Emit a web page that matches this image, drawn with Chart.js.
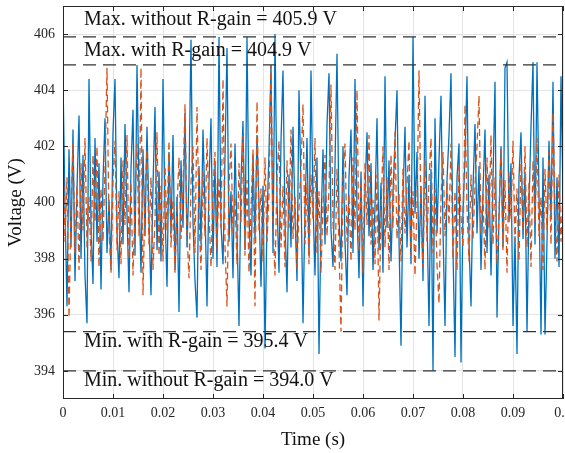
<!DOCTYPE html>
<html><head><meta charset="utf-8">
<script src="https://cdn.jsdelivr.net/npm/chart.js@4/dist/chart.umd.min.js"></script>
<style>html,body{margin:0;padding:0;background:#fff}#wrap{width:565px;height:453px;position:relative}</style>
</head><body><div id="wrap"><canvas id="c" width="565" height="453"></canvas></div>
<script>
// Sampling interval of both traces (s)
const sampleStep = 0.0004;

// Voltage without R-gain (blue, solid)
const voltageWithout = [
404.4,399.8,396.3,401.9,398.4,402.6,397.2,400.5,403.1,398.0,
401.7,397.4,395.7,404.4,399.2,397.1,402.3,398.6,401.4,396.9,
400.8,403.0,398.2,400.1,397.6,402.5,404.4,399.0,397.3,401.6,
398.5,402.8,399.6,396.8,401.2,403.3,398.1,404.9,400.3,397.5,
401.9,398.8,402.7,399.4,396.7,400.6,403.4,398.3,401.1,397.9,
404.4,399.7,397.0,401.8,398.9,402.4,397.6,400.2,396.1,401.5,
399.1,403.2,398.4,400.9,405.8,399.3,397.2,395.9,401.3,398.5,
402.6,399.8,396.3,400.7,403.0,398.0,401.4,397.7,405.9,399.2,
397.8,401.6,405.5,398.6,400.4,397.3,402.1,399.0,395.6,400.8,
402.9,398.3,405.9,399.5,397.4,401.7,398.7,402.4,399.9,397.0,
400.6,394.8,399.4,401.8,404.9,398.2,406.0,400.1,397.5,402.2,
404.7,399.3,396.8,401.0,398.4,402.7,399.6,397.2,404.0,400.5,
395.7,399.8,402.3,398.1,404.7,400.0,397.4,401.6,394.6,399.2,
401.9,398.5,402.8,404.6,399.0,397.7,401.3,405.3,399.4,397.9,
402.0,398.6,396.7,400.9,402.6,398.2,404.4,399.7,397.3,401.1,
396.3,400.4,402.5,398.8,401.4,397.6,399.9,403.0,398.3,400.7,
397.5,404.5,399.1,401.5,397.9,400.3,402.2,404.0,398.7,394.9,
400.2,402.7,398.4,401.0,397.8,405.9,399.6,401.8,398.0,400.6,
397.2,403.8,399.5,395.6,401.2,394.0,403.0,398.9,401.5,403.8,
399.0,395.6,400.8,402.4,404.6,398.3,394.5,400.9,402.1,394.3,
399.7,401.6,404.5,398.6,396.3,400.5,402.8,398.9,401.3,397.6,
400.4,402.6,398.2,401.0,397.4,400.8,404.3,395.9,399.5,402.0,
398.4,404.8,405.0,399.3,401.4,395.6,398.8,394.6,400.9,402.5,
398.7,401.1,395.4,399.9,402.7,405.0,398.5,405.0,400.3,395.3,
401.6,395.3,398.6,402.2,399.4,404.3,398.0,400.9,397.7,404.5,
400.2
];

// Voltage with R-gain (orange, dashed)
const voltageWith = [
401.8,398.6,400.9,395.9,399.7,402.1,398.2,400.6,397.6,401.4,
399.0,402.3,398.4,400.2,397.9,401.7,399.3,402.0,397.7,400.5,
398.6,401.2,404.8,399.1,397.5,400.8,402.2,398.3,400.4,397.8,
401.5,399.2,402.4,398.0,400.7,397.4,399.9,402.1,398.8,404.8,
396.7,400.3,401.9,398.5,400.9,397.6,399.4,402.5,398.1,400.6,
397.9,401.3,399.0,402.2,398.4,400.1,397.5,399.8,401.6,398.7,
400.5,403.5,398.9,397.3,400.7,402.0,398.2,403.4,399.5,397.6,
401.1,398.8,402.3,399.6,397.7,400.4,401.8,398.3,400.9,399.1,
404.4,398.5,396.3,400.6,402.1,398.9,400.2,397.8,401.4,399.3,
402.4,398.1,400.8,397.5,399.7,401.9,396.3,403.6,399.0,400.5,
397.9,401.6,398.6,400.3,404.9,399.2,397.4,400.9,402.2,398.4,
400.6,397.7,401.5,399.1,402.6,398.7,400.2,397.6,399.8,401.3,
403.5,398.5,400.7,397.8,401.0,399.4,402.3,398.2,400.4,397.5,
399.9,401.7,398.8,400.5,404.2,399.3,397.6,401.2,398.4,395.4,
400.8,402.1,398.6,400.3,397.9,401.6,399.0,404.0,398.3,400.7,
397.5,401.4,399.2,402.4,398.5,400.1,397.8,401.0,395.8,399.6,
402.0,398.4,400.9,397.6,401.7,399.1,402.5,398.7,400.3,397.9,
401.2,398.9,400.6,402.2,398.1,400.4,397.4,399.9,404.7,399.4,
397.7,401.5,398.6,400.8,402.3,398.2,400.5,397.8,396.4,400.2,
401.8,398.8,400.7,399.2,402.1,398.0,400.4,397.6,401.3,399.5,
398.4,403.5,399.8,397.9,401.0,398.7,400.6,402.0,403.8,398.9,
400.3,397.6,401.6,399.1,402.4,398.5,400.9,397.8,399.6,401.9,
398.3,400.8,397.5,401.1,399.4,402.2,398.6,400.5,397.9,401.4,
399.0,402.0,398.4,400.7,397.7,401.5,399.3,402.3,398.8,400.2,
397.6,401.2,399.0,401.8,398.5,403.2,399.7,397.9,401.0,398.6,
400.4
];

// Reference levels and their labels
const refLevels = [405.9, 404.9, 395.4, 394.0];
const refLabels = [
  'Max. without R-gain = 405.9 V',
  'Max. with R-gain = 404.9 V',
  'Min. with R-gain = 395.4 V',
  'Min. without R-gain = 394.0 V'
];
const refLabelY = [406.5, 405.4, 395.05, 393.65];
const refLabelX = 0.0042;

// Axis ticks
const xTickValues = [0, 0.01, 0.02, 0.03, 0.04, 0.05, 0.06, 0.07, 0.08, 0.09, 0.1];
const xTickLabels = ['0', '0.01', '0.02', '0.03', '0.04', '0.05', '0.06', '0.07', '0.08', '0.09', '0.1'];
const yTickValues = [394, 396, 398, 400, 402, 404, 406];
const yTickLabels = ['394', '396', '398', '400', '402', '404', '406'];

const xMin = 0, xMax = 0.1, yMin = 393, yMax = 407;

const toPoints = arr => arr.map((v, i) => ({x: i * sampleStep, y: v}));

const SERIF = "'Liberation Serif', 'DejaVu Serif', serif";
const AXIS_COLOR = '#262626';

const refDatasets = refLevels.map(v => ({
  data: [{x: xMin, y: v}, {x: xMax, y: v}],
  borderColor: '#333333',
  borderWidth: 1.2,
  borderDash: [13, 7],
  pointRadius: 0,
  order: 0
}));

const zeroPad = s => { s.paddingLeft = 0; s.paddingRight = 0; s.paddingTop = 0; s.paddingBottom = 0; };

const framePlugin = {
  id: 'frame',
  afterDatasetsDraw(chart) {
    const {ctx, chartArea: a, scales} = chart;
    ctx.save();
    ctx.fillStyle = '#111111';
    ctx.font = "20px " + SERIF;
    ctx.textAlign = 'left';
    ctx.textBaseline = 'middle';
    refLabels.forEach((t, i) => {
      ctx.fillText(t, scales.x.getPixelForValue(refLabelX), scales.y.getPixelForValue(refLabelY[i]));
    });
    ctx.strokeStyle = AXIS_COLOR;
    ctx.lineWidth = 1;
    ctx.strokeRect(Math.round(a.left) + 0.5, Math.round(a.top) + 0.5, Math.round(a.right - a.left) - 1, Math.round(a.bottom - a.top) - 1);
    const tl = 5;
    ctx.beginPath();
    xTickValues.forEach(v => {
      const px = Math.round(scales.x.getPixelForValue(v)) + 0.5;
      ctx.moveTo(px, a.bottom); ctx.lineTo(px, a.bottom - tl);
      ctx.moveTo(px, a.top); ctx.lineTo(px, a.top + tl);
    });
    yTickValues.forEach(v => {
      const py = Math.round(scales.y.getPixelForValue(v)) + 0.5;
      ctx.moveTo(a.left, py); ctx.lineTo(a.left + tl, py);
      ctx.moveTo(a.right, py); ctx.lineTo(a.right - tl, py);
    });
    ctx.stroke();
    ctx.restore();
  }
};

new Chart(document.getElementById('c'), {
  type: 'line',
  data: {
    datasets: [
      ...refDatasets,
      {
        label: 'With R-gain',
        data: toPoints(voltageWith),
        borderColor: '#D95319',
        borderWidth: 1.3,
        borderDash: [7, 4],
        pointRadius: 0,
        tension: 0,
        order: 1
      },
      {
        label: 'Without R-gain',
        data: toPoints(voltageWithout),
        borderColor: '#0072BD',
        borderWidth: 1.3,
        pointRadius: 0,
        tension: 0,
        order: 2
      }
    ]
  },
  options: {
    responsive: false,
    animation: false,
    devicePixelRatio: 1,
    layout: {padding: {top: 6, right: 2, left: 0, bottom: 0}},
    plugins: {legend: {display: false}, tooltip: {enabled: false}},
    scales: {
      x: {
        type: 'linear', min: xMin, max: xMax,
        afterBuildTicks: s => { s.ticks = xTickValues.map(v => ({value: v})); },
        afterFit: s => { s.height = 54; zeroPad(s); },
        ticks: {
          color: AXIS_COLOR, font: {family: SERIF, size: 14}, padding: 6,
          maxRotation: 0, autoSkip: false,
          callback: (v, i) => xTickLabels[i]
        },
        grid: {color: '#e3e3e3', lineWidth: 1, drawTicks: false},
        border: {display: false},
        title: {display: true, text: 'Time (s)', color: '#111111', font: {family: SERIF, size: 19}, padding: {top: 0, bottom: 2}}
      },
      y: {
        type: 'linear', min: yMin, max: yMax,
        afterBuildTicks: s => { s.ticks = yTickValues.map(v => ({value: v})); },
        afterFit: s => { s.width = 63; zeroPad(s); },
        ticks: {
          color: AXIS_COLOR, font: {family: SERIF, size: 14}, padding: 8,
          callback: (v, i) => yTickLabels[i]
        },
        grid: {color: '#e3e3e3', lineWidth: 1, drawTicks: false},
        border: {display: false},
        title: {display: true, text: 'Voltage (V)', color: '#111111', font: {family: SERIF, size: 19}, padding: {top: 5, bottom: 0}}
      }
    }
  },
  plugins: [framePlugin]
});
</script></body></html>
